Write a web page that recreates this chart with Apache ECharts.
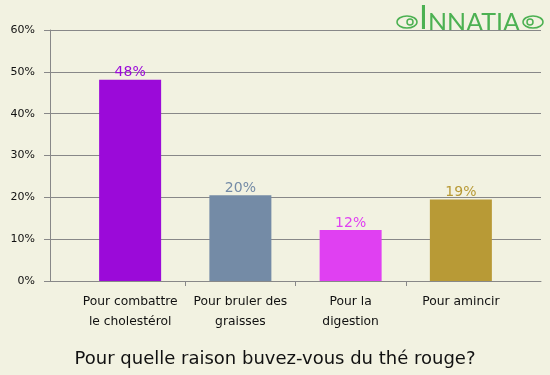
<!DOCTYPE html>
<html>
<head>
<meta charset="utf-8">
<script src="https://cdn.jsdelivr.net/npm/echarts@6/dist/echarts.min.js"></script>
<style>
html,body{margin:0;padding:0;background:#f2f2e1;}
#c{width:550px;height:375px;}
</style>
</head>
<body>
<div id="c"></div>
<script>
const categories = ["Pour combattre\nle cholestérol", "Pour bruler des\ngraisses", "Pour la\ndigestion", "Pour amincir"];
const values = [48.1, 20.5, 12.2, 19.5];
const barColors = ["#9b0ad9", "#748ba6", "#e040f2", "#b89a36"];
const yTicks = [0, 10, 20, 30, 40, 50, 60];
const titleText = "Pour quelle raison buvez-vous du thé rouge?";

const FONT = "DejaVu Sans";
const chart = echarts.init(document.getElementById('c'), null, {renderer: 'canvas'});
const boundaryTicks = categories.slice(1).map((_, i) => i + 1);

chart.setOption({
  backgroundColor: '#f2f2e1',
  animation: false,
  title: {
    text: titleText,
    left: 'center',
    top: 345,
    textStyle: {fontFamily: FONT, fontSize: 18, fontWeight: 'normal', color: '#111'}
  },
  grid: [
    {left: 50, right: 9, top: 30, bottom: 94},
    {left: 75, right: 34, top: 30, bottom: 94}
  ],
  xAxis: [
    {gridIndex: 0, type: 'value', min: 0, max: 1, position: 'bottom',
      axisLine: {show: true, lineStyle: {color: '#888', width: 1}},
      axisTick: {show: false}, axisLabel: {show: false}, splitLine: {show: false}},
    {gridIndex: 1, type: 'category', data: categories, position: 'bottom',
      axisLine: {show: false}, axisTick: {show: false},
      axisLabel: {margin: 11, fontFamily: FONT, fontSize: 12.3, lineHeight: 20, color: '#111', interval: 0}},
    {gridIndex: 1, type: 'value', min: 0, max: categories.length, position: 'bottom',
      axisLine: {show: false, onZero: false},
      axisTick: {show: true, customValues: boundaryTicks, length: 5, lineStyle: {color: '#888'}},
      axisLabel: {show: false}, splitLine: {show: false}}
  ],
  yAxis: [
    {gridIndex: 0, type: 'value', min: yTicks[0], max: yTicks[yTicks.length - 1], interval: 10,
      axisLine: {show: true, lineStyle: {color: '#888'}},
      axisTick: {show: true, length: 6, lineStyle: {color: '#888'}},
      axisLabel: {formatter: '{value}%', margin: 15, fontFamily: FONT, fontSize: 11, color: '#111', padding: [4, 0, 0, 0]},
      splitLine: {show: true, lineStyle: {color: '#888', width: 1}}},
    {gridIndex: 1, type: 'value', min: yTicks[0], max: yTicks[yTicks.length - 1], interval: 10, show: false,
      splitLine: {show: false}}
  ],
  series: [{
    type: 'bar',
    xAxisIndex: 1,
    yAxisIndex: 1,
    barWidth: 62,
    data: values.map((v, i) => ({
      value: v,
      itemStyle: {color: barColors[i]},
      label: {color: barColors[i]}
    })),
    label: {
      show: true,
      position: 'top',
      distance: 0,
      fontFamily: FONT,
      fontSize: 14,
      formatter: p => Math.floor(p.value) + '%'
    }
  }],
  graphic: [
    {type: 'ellipse', shape: {cx: 407, cy: 22, rx: 10, ry: 6}, style: {fill: 'none', stroke: '#4cb152', lineWidth: 1.5}},
    {type: 'circle', shape: {cx: 410, cy: 22, r: 3}, style: {fill: 'none', stroke: '#4cb152', lineWidth: 1.5}},
    {type: 'text', style: {x: 419, y: 35, text: 'I', font: '32px Lato', fill: '#4cb152', align: 'left', verticalAlign: 'bottom'}},
    {type: 'text', style: {x: 428, y: 35, text: 'NNATIA', font: '25px Lato', fill: '#4cb152', align: 'left', verticalAlign: 'bottom'}},
    {type: 'ellipse', shape: {cx: 533, cy: 22, rx: 10, ry: 6}, style: {fill: 'none', stroke: '#4cb152', lineWidth: 1.5}},
    {type: 'circle', shape: {cx: 530, cy: 22, r: 3}, style: {fill: 'none', stroke: '#4cb152', lineWidth: 1.5}}
  ]
});
</script>
</body>
</html>
